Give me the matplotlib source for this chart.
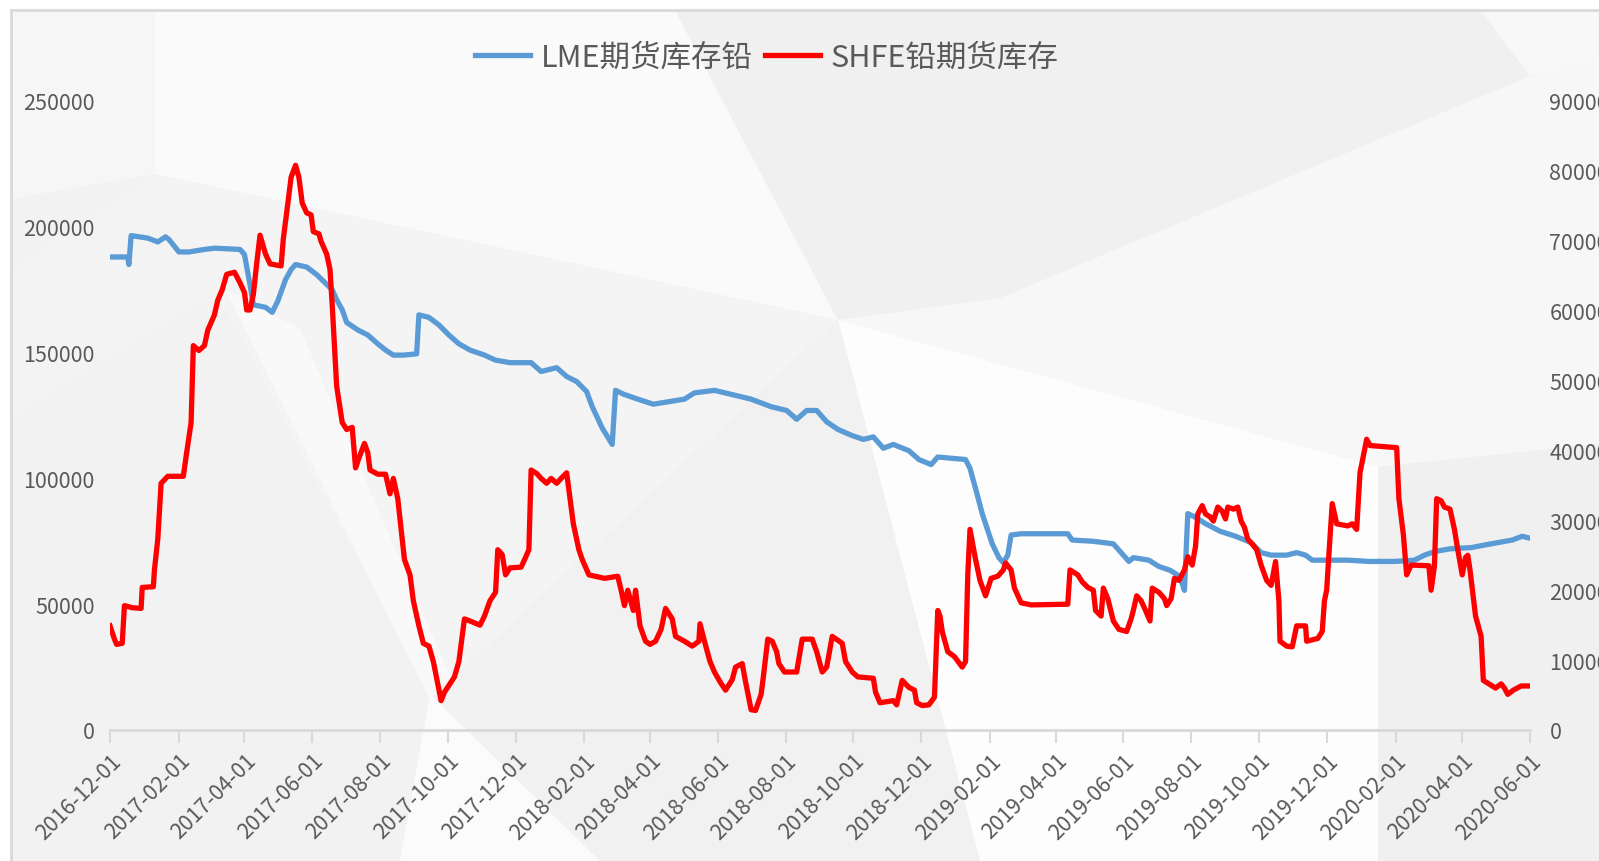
import pandas as pd
import matplotlib
matplotlib.use("Agg")
import matplotlib.pyplot as plt
import matplotlib.dates as mdates
from matplotlib.patches import Polygon
from matplotlib.lines import Line2D

plt.rcParams['font.family'] = ['Noto Sans CJK SC', 'DejaVu Sans']

# 日期以 2016-12-01 起算的天数记录
start = pd.Timestamp('2016-12-01')

lme_days = [0, 16, 17, 19, 34, 43, 50, 53, 62, 71, 85, 94, 117, 121, 126, 129, 140, 146,
            151, 158, 163, 167, 177, 186, 193, 200, 204, 209, 213, 223, 232, 241, 248, 255,
            264, 276, 278, 287, 296, 305, 314, 324, 337, 347, 360, 379, 388, 402, 411, 420,
            429, 434, 443, 452, 455, 462, 475, 489, 503, 517, 526, 544, 558, 577, 586, 595,
            609, 618, 627, 636, 645, 655, 668, 678, 687, 696, 705, 719, 728, 739, 745, 770,
            774, 779, 785, 791, 794, 800, 804, 808, 811, 820, 862, 866, 885, 903, 912, 917,
            921, 935, 944, 954, 963, 967, 970, 977, 986, 999, 1013, 1027, 1036, 1045, 1059,
            1068, 1076, 1082, 1114, 1133, 1156, 1174, 1183, 1193, 1206, 1225, 1243, 1262,
            1271, 1280]
lme_values = [188000, 188000, 185000, 196500, 195500, 194000, 196000, 195000, 190000, 190000,
              191000, 191500, 191000, 189000, 177000, 169000, 168000, 166000, 170500, 179000,
              183000, 185000, 184000, 181000, 178000, 175000, 171000, 167000, 162000, 159000,
              157000, 153500, 151000, 149000, 149000, 149500, 165000, 164000, 161000, 157000,
              153500, 151000, 149000, 147000, 146000, 146000, 142500, 144000, 140500, 138500,
              134500, 128500, 120000, 113500, 135000, 133500, 131500, 129500, 130500, 131500,
              134000, 135000, 133500, 131500, 130000, 128500, 127000, 123500, 127000, 127000,
              122500, 119500, 117000, 115500, 116500, 112000, 113500, 111000, 107500, 105500,
              108500, 107500, 104000, 96000, 86000, 78000, 74000, 68500, 66500, 69500, 77500,
              78000, 78000, 75500, 75000, 74000, 69500, 67000, 68500, 67500, 65000, 63500,
              61000, 55500, 86000, 84500, 82000, 79000, 77000, 74500, 70500, 69500, 69500,
              70500, 69500, 67500, 67500, 67000, 67000, 67500, 69500, 71000, 72000, 72500,
              74000, 75500, 77000, 76000]

shfe_days = [0, 4, 6, 11, 13, 20, 28, 29, 39, 40, 43, 46, 52, 66, 69, 73, 75, 80, 85, 88, 94,
             97, 101, 105, 112, 117, 121, 123, 126, 129, 132, 135, 140, 144, 154, 156, 159,
             163, 167, 170, 173, 177, 181, 183, 188, 190, 195, 198, 200, 204, 209, 213, 218,
             221, 224, 229, 232, 234, 241, 248, 252, 255, 259, 265, 270, 273, 278, 282, 287,
             291, 298, 301, 310, 314, 319, 324, 333, 337, 342, 347, 349, 353, 356, 360, 370,
             374, 377, 379, 384, 388, 393, 397, 402, 406, 411, 414, 417, 422, 425, 431, 445,
             457, 460, 463, 466, 471, 473, 477, 482, 486, 491, 496, 500, 506, 509, 517, 524,
             530, 531, 535, 540, 544, 549, 554, 560, 563, 569, 572, 577, 581, 586, 588, 592,
             596, 600, 602, 607, 618, 623, 632, 636, 641, 645, 650, 659, 662, 668, 673, 687,
             689, 693, 705, 708, 713, 719, 724, 726, 731, 737, 742, 745, 747, 749, 754, 760,
             767, 770, 772, 774, 779, 783, 788, 793, 799, 804, 806, 811, 814, 820, 829, 862,
             864, 871, 875, 880, 885, 887, 892, 894, 898, 903, 908, 915, 919, 921, 924, 928,
             932, 936, 938, 944, 949, 951, 955, 958, 962, 967, 970, 974, 977, 979, 983, 986,
             990, 993, 997, 1001, 1004, 1006, 1011, 1015, 1018, 1021, 1024, 1028, 1032, 1036,
             1041, 1045, 1049, 1052, 1053, 1059, 1064, 1068, 1076, 1077, 1087, 1091, 1093,
             1095, 1097, 1100, 1104, 1114, 1118, 1122, 1125, 1131, 1134, 1158, 1160, 1164,
             1167, 1171, 1187, 1189, 1192, 1194, 1198, 1201, 1206, 1210, 1213, 1217, 1220,
             1222, 1224, 1229, 1234, 1236, 1241, 1247, 1252, 1255, 1258, 1263, 1270, 1280]
shfe_values = [14900, 13000, 12250, 12400, 17800, 17500, 17400, 20400, 20500, 22900, 27300,
               35300, 36300, 36300, 39700, 44000, 55000, 54300, 55000, 57200, 59400, 61500,
               63000, 65200, 65500, 64000, 62600, 60100, 60100, 62300, 66700, 70800, 68100,
               66700, 66400, 70300, 74000, 79100, 80800, 79100, 75400, 74000, 73700, 71300,
               71000, 69900, 68100, 65900, 60800, 49200, 44000, 43000, 43300, 37500, 38900,
               41000, 39700, 37200, 36600, 36600, 33800, 36000, 33100, 24400, 22200, 18500,
               14900, 12400, 12000, 9800, 4200, 5400, 7600, 9800, 15900, 15600, 15000, 16300,
               18500, 19700, 25800, 25100, 22200, 23200, 23300, 24700, 25800, 37200, 36700,
               36000, 35300, 36000, 35300, 36000, 36800, 33100, 29500, 25800, 24400, 22200,
               21700, 22000, 20000, 17800, 20000, 17100, 20000, 14900, 12700, 12250, 12700,
               14400, 17400, 15900, 13400, 12700, 12000, 12700, 15200, 12700, 9800, 8300,
               6900, 5700, 7200, 9000, 9500, 6900, 2900, 2800, 5100, 7600, 13000, 12700,
               11200, 9500, 8300, 8300, 13000, 13000, 11200, 8300, 9000, 13400, 12400, 9800,
               8300, 7600, 7400, 5400, 3900, 4200, 3600, 7100, 6100, 5700, 3900, 3500, 3600,
               4700, 17100, 16300, 14100, 11200, 10500, 9000, 9800, 22200, 28700, 24400,
               21400, 19200, 21700, 22000, 22900, 23900, 22900, 20300, 18200, 17900, 18000,
               22900, 22200, 21200, 20400, 20000, 17100, 16300, 20300, 18800, 15600, 14400,
               14100, 15900, 17100, 19200, 18500, 17100, 15600, 20300, 19700, 18800, 17800,
               18800, 21700, 21400, 22900, 24800, 23600, 26300, 30900, 32100, 30900, 30500,
               29900, 31900, 31300, 30200, 31900, 31600, 31900, 29900, 29000, 27300, 26600,
               25800, 23600, 21400, 20700, 24100, 18500, 12700, 12000, 11900, 14900, 14900,
               12700, 13100, 14100, 18500, 20000, 25100, 32400, 29500, 29200, 29500, 28700,
               36800, 41600, 40700, 40400, 33100, 28000, 22200, 23600, 23500, 20000, 23500,
               33100, 32800, 31900, 31600, 28700, 25800, 22200, 24700, 25000, 22900, 16300,
               13400, 7100, 6600, 6000, 6600, 6000, 5100, 5700, 6300, 6300]

tick_dates = pd.date_range('2016-12-01', '2020-06-01', freq='2MS')

lme_dates = start + pd.to_timedelta(lme_days, unit='D')
shfe_dates = start + pd.to_timedelta(shfe_days, unit='D')

W, H = 1599, 862
fig = plt.figure(figsize=(W / 100, H / 100), dpi=100)
fig.patch.set_facecolor('white')


def poly(pts, color):
    # 背景装饰多边形，坐标为像素
    p = Polygon([(x / W, 1 - y / H) for x, y in pts], closed=True,
                transform=fig.transFigure, facecolor=color, edgecolor='none', zorder=-10)
    fig.patches.append(p)


poly([(11, 11), (1599, 11), (1599, 862), (11, 862)], '#f2f2f2')
poly([(11, 11), (155, 11), (155, 175), (11, 200)], '#f6f6f6')
poly([(155, 11), (675, 11), (838, 321), (155, 175)], '#fafafa')
poly([(675, 11), (1480, 11), (1530, 77), (1000, 299), (838, 321)], '#f0f0f0')
poly([(1480, 11), (1599, 11), (1599, 60), (1530, 77)], '#f8f8f8')
poly([(838, 321), (1000, 299), (1530, 77), (1599, 60), (1599, 445), (1378, 468)], '#f7f7f7')
poly([(838, 321), (1378, 468), (1378, 862), (980, 862)], '#fdfdfd')
poly([(1378, 468), (1599, 445), (1599, 862), (1378, 862)], '#f0f0f0')
poly([(155, 175), (838, 321), (430, 700)], '#f4f4f4')
poly([(225, 290), (300, 330), (460, 700), (430, 700)], '#f9f9f9')
poly([(430, 700), (838, 321), (980, 862), (600, 862)], '#f1f1f1')
poly([(430, 695), (600, 862), (400, 862)], '#fbfbfb')
poly([(11, 270), (155, 175), (225, 290), (11, 420)], '#f3f3f3')

fig.lines.append(Line2D([11 / W, 11 / W], [0, 1 - 11 / H], transform=fig.transFigure,
                        color='#d9d9d9', lw=2, zorder=-5))
fig.lines.append(Line2D([11 / W, 1], [1 - 11 / H, 1 - 11 / H], transform=fig.transFigure,
                        color='#d9d9d9', lw=2, zorder=-5))

ax = fig.add_axes([110 / W, 1 - 731 / H, (1530 - 110) / W, (731 - 102) / H])
ax.set_facecolor('none')
ax2 = ax.twinx()

l1, = ax.plot(lme_dates, lme_values, color='#5b9bd5', lw=3.8, solid_joinstyle='round')
l2, = ax2.plot(shfe_dates, shfe_values, color='#ff0000', lw=3.8, solid_joinstyle='round')

ax.set_xlim(start, pd.Timestamp('2020-06-01'))
ax.set_ylim(0, 250000)
ax2.set_ylim(0, 90000)
ax.set_yticks(range(0, 250001, 50000))
ax2.set_yticks(range(0, 90001, 10000))

ax.set_xticks(tick_dates)
ax.xaxis.set_major_formatter(mdates.DateFormatter('%Y-%m-%d'))
for lab in ax.get_xticklabels():
    lab.set_rotation(45)
    lab.set_ha('right')
    lab.set_rotation_mode('anchor')

for a in (ax, ax2):
    for s in ('top', 'left', 'right', 'bottom'):
        a.spines[s].set_visible(False)
ax.spines['bottom'].set_visible(True)
ax.spines['bottom'].set_color('#d9d9d9')
ax.spines['bottom'].set_linewidth(2)

ax.tick_params(axis='x', colors='#d9d9d9', length=9, width=1.5, labelcolor='#595959',
               labelsize=15.5, pad=5)
ax.tick_params(axis='y', length=0, labelcolor='#595959', labelsize=15.5, pad=11)
ax2.tick_params(axis='y', length=0, labelcolor='#595959', labelsize=15.5, pad=14)

fig.legend([l1, l2], ['LME期货库存铅', 'SHFE铅期货库存'], loc='center',
           bbox_to_anchor=(767 / W, 1 - 58 / H), ncol=2, frameon=False,
           fontsize=22, handlelength=1.8, columnspacing=0.4, handletextpad=0.35,
           labelcolor='#595959')

fig.savefig('out.png', dpi=100)
